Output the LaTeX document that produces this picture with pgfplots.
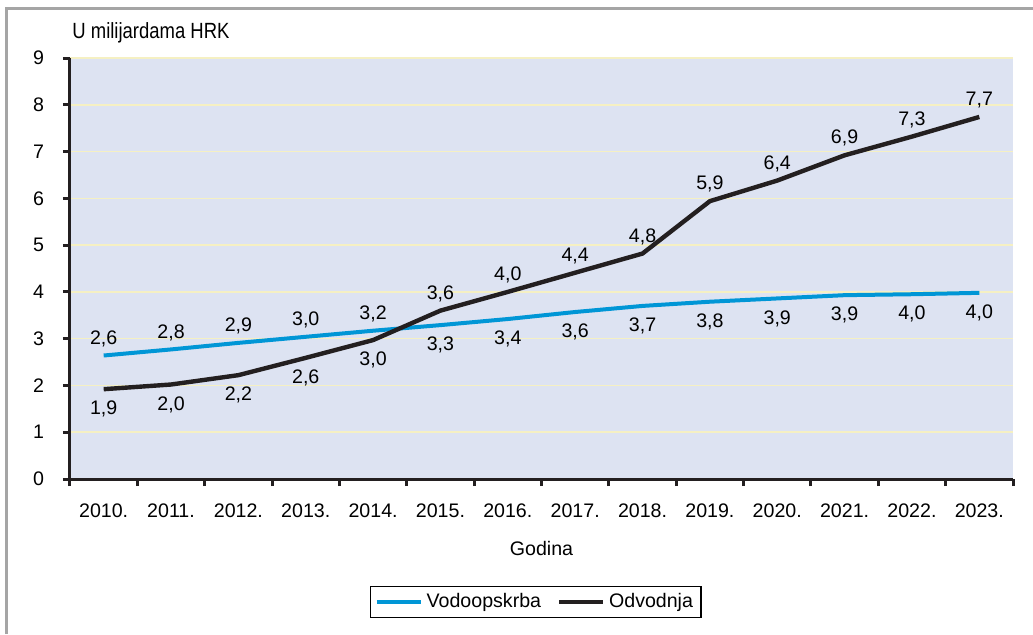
\documentclass[border=0pt]{standalone}
\usepackage{pgfplots}
\pgfplotsset{compat=1.18}
\usepackage{pgfplotstable}
\usepackage{fontspec}
\setmainfont{Liberation Sans}
\newfontfamily\narrowfont{Liberation Sans}[FakeStretch=0.84]
\definecolor{bg}{RGB}{221,227,242}
\definecolor{gridy}{RGB}{245,240,195}
\definecolor{vblue}{RGB}{0,150,214}
\definecolor{oblack}{RGB}{35,31,32}
\definecolor{framec}{RGB}{165,165,165}

\pgfplotstableread{
x y lab off
0 2.64 {2,6} 8.5
1 2.77 {2,8} 8.5
2 2.91 {2,9} 8.5
3 3.04 {3,0} 8.5
4 3.17 {3,2} 8.5
5 3.29 {3,3} -10
6 3.42 {3,4} -10
7 3.57 {3,6} -10
8 3.70 {3,7} -10
9 3.79 {3,8} -10
10 3.86 {3,9} -10
11 3.93 {3,9} -10
12 3.95 {4,0} -10
13 3.98 {4,0} -10
}\vodo

\pgfplotstableread{
x y lab off
0 1.92 {1,9} -10
1 2.02 {2,0} -10
2 2.22 {2,2} -10
3 2.59 {2,6} -10
4 2.97 {3,0} -10
5 3.60 {3,6} 8.5
6 4.00 {4,0} 8.5
7 4.41 {4,4} 8.5
8 4.82 {4,8} 8.5
9 5.94 {5,9} 8.5
10 6.38 {6,4} 8.5
11 6.92 {6,9} 8.5
12 7.32 {7,3} 8.5
13 7.74 {7,7} 8.5
}\odvo

\begin{document}
\begin{tikzpicture}
\path[use as bounding box] (0pt,0pt) rectangle (516.5pt,317pt);
\draw[framec, line width=1.5pt] (3pt,0pt) -- (3pt,313pt) -- (516.5pt,313pt);
\begin{axis}[
  at={(35pt,77.5pt)}, anchor=south west,
  scale only axis, width=471.5pt, height=210.5pt,
  xmin=-0.5, xmax=13.5, ymin=0, ymax=9,
  font=\fontsize{9.8}{11}\selectfont,
  /pgf/number format/assume math mode=true,
  axis background/.style={fill=bg},
  axis x line*=bottom, axis y line*=left,
  axis line style={line width=1.5pt, oblack},
  tick align=outside, major tick length=3.5pt,
  tick style={line width=1.5pt, oblack},
  ytick={0,...,9}, ymajorgrids,
  grid style={gridy, line width=0.8pt},
  yticklabel style={xshift=-6pt},
  xtick={-0.5,0.5,...,13.5}, xticklabels={},
  extra x ticks={0,...,13},
  extra x tick labels={2010.,2011.,2012.,2013.,2014.,2015.,2016.,2017.,2018.,2019.,2020.,2021.,2022.,2023.},
  extra x tick style={major tick length=0pt, xticklabel style={yshift=-9pt}},
  xlabel={Godina},
  xlabel style={at={(axis description cs:0.5,0)}, anchor=center, yshift=-34.5pt},
  legend columns=2,
  legend style={at={(axis description cs:0.494,-0.292)}, anchor=center,
    draw=black, line width=0.6pt, font=\fontsize{9.8}{11}\selectfont,
    inner xsep=2pt, inner ysep=1.5pt,
    /tikz/every even column/.append style={column sep=6pt}},
  legend image code/.code={\draw[#1, line width=2pt] (0pt,0pt) -- (22pt,0pt);},
  clip=false,
]
\addplot[vblue, line width=2pt,
  nodes near coords, point meta=explicit symbolic,
  visualization depends on={\thisrow{off} \as \off},
  every node near coord/.append style={anchor=center, yshift=\off pt, black, font=\fontsize{9.8}{11}\selectfont}]
  table[x=x, y=y, meta=lab] {\vodo};
\addlegendentry{Vodoopskrba}
\addplot[oblack, line width=2.2pt,
  nodes near coords, point meta=explicit symbolic,
  visualization depends on={\thisrow{off} \as \off},
  every node near coord/.append style={anchor=center, yshift=\off pt, black, font=\fontsize{9.8}{11}\selectfont}]
  table[x=x, y=y, meta=lab] {\odvo};
\addlegendentry{Odvodnja}
\end{axis}
\node[anchor=west, font=\narrowfont\fontsize{11}{12}\selectfont, inner sep=0pt] at (36pt,300.5pt) {U milijardama HRK};
\end{tikzpicture}
\end{document}
